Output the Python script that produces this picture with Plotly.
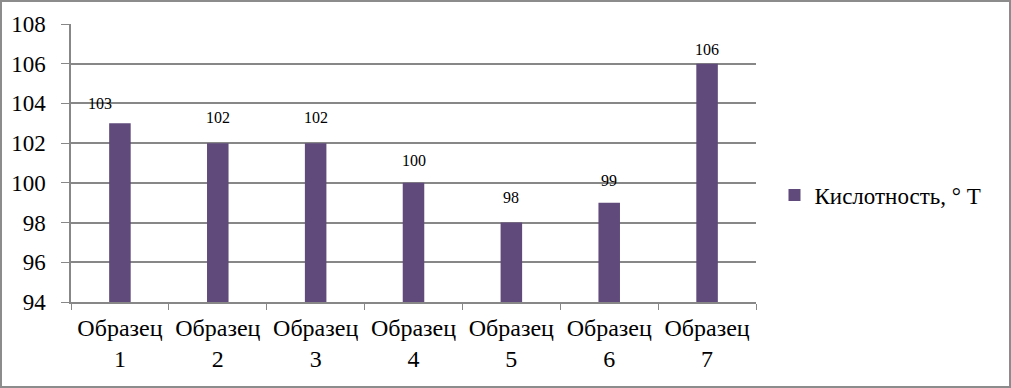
import plotly.graph_objects as go

categories = ["Образец<br>1", "Образец<br>2", "Образец<br>3", "Образец<br>4",
              "Образец<br>5", "Образец<br>6", "Образец<br>7"]
values = [103, 102, 102, 100, 98, 99, 106]
series_name = "Кислотность, ° Т"
label_xshift = [-20, 0, 0, 0, 0, 0, 0]
label_yshift = [20, 26, 26, 22, 25, 22, 14]

bar_color = "#604A7B"
grid_color = "#878787"
font_family = "Liberation Serif"

fig = go.Figure()
fig.add_trace(go.Bar(
    x=categories, y=values, name=series_name,
    marker=dict(color=bar_color, line=dict(width=0)),
    showlegend=True,
))

for c, v, xs, ys in zip(categories, values, label_xshift, label_yshift):
    fig.add_annotation(x=c, y=v, text=str(v), showarrow=False,
                       yshift=ys, xshift=xs,
                       font=dict(family=font_family, size=16, color="#000000"))

fig.update_layout(
    width=1011, height=388,
    margin=dict(l=71, r=255, t=24, b=86, autoexpand=False),
    paper_bgcolor="white", plot_bgcolor="white",
    bargap=0.78,
    font=dict(family=font_family, color="#000000"),
    legend=dict(x=1.027, y=0.385, xanchor="left", yanchor="middle",
                font=dict(family=font_family, size=23, color="#000000"),
                bgcolor="rgba(0,0,0,0)", itemwidth=30),
    shapes=[dict(type="rect", xref="paper", yref="paper",
                 x0=-70/685, x1=1+254/685, y0=-85/278, y1=1+23/278,
                 line=dict(color="#8c8c8c", width=2))],
)
fig.update_yaxes(range=[94, 108], dtick=2, tick0=94,
                 showgrid=True, gridcolor=grid_color, gridwidth=1.5,
                 showline=True, linecolor=grid_color, linewidth=1.5,
                 ticks="outside", ticklen=8, tickcolor=grid_color,
                 ticklabelstandoff=11,
                 tickfont=dict(family=font_family, size=23, color="#000000"),
                 zeroline=False)
fig.update_xaxes(showline=True, linecolor=grid_color, linewidth=1.5,
                 ticks="outside", tickson="boundaries", ticklen=6,
                 tickcolor=grid_color, ticklabelstandoff=3,
                 tickfont=dict(family=font_family, size=24, color="#000000"))

fig.write_html("out.html", config={"displayModeBar": False},
               post_script="document.body.style.margin='0px';")
